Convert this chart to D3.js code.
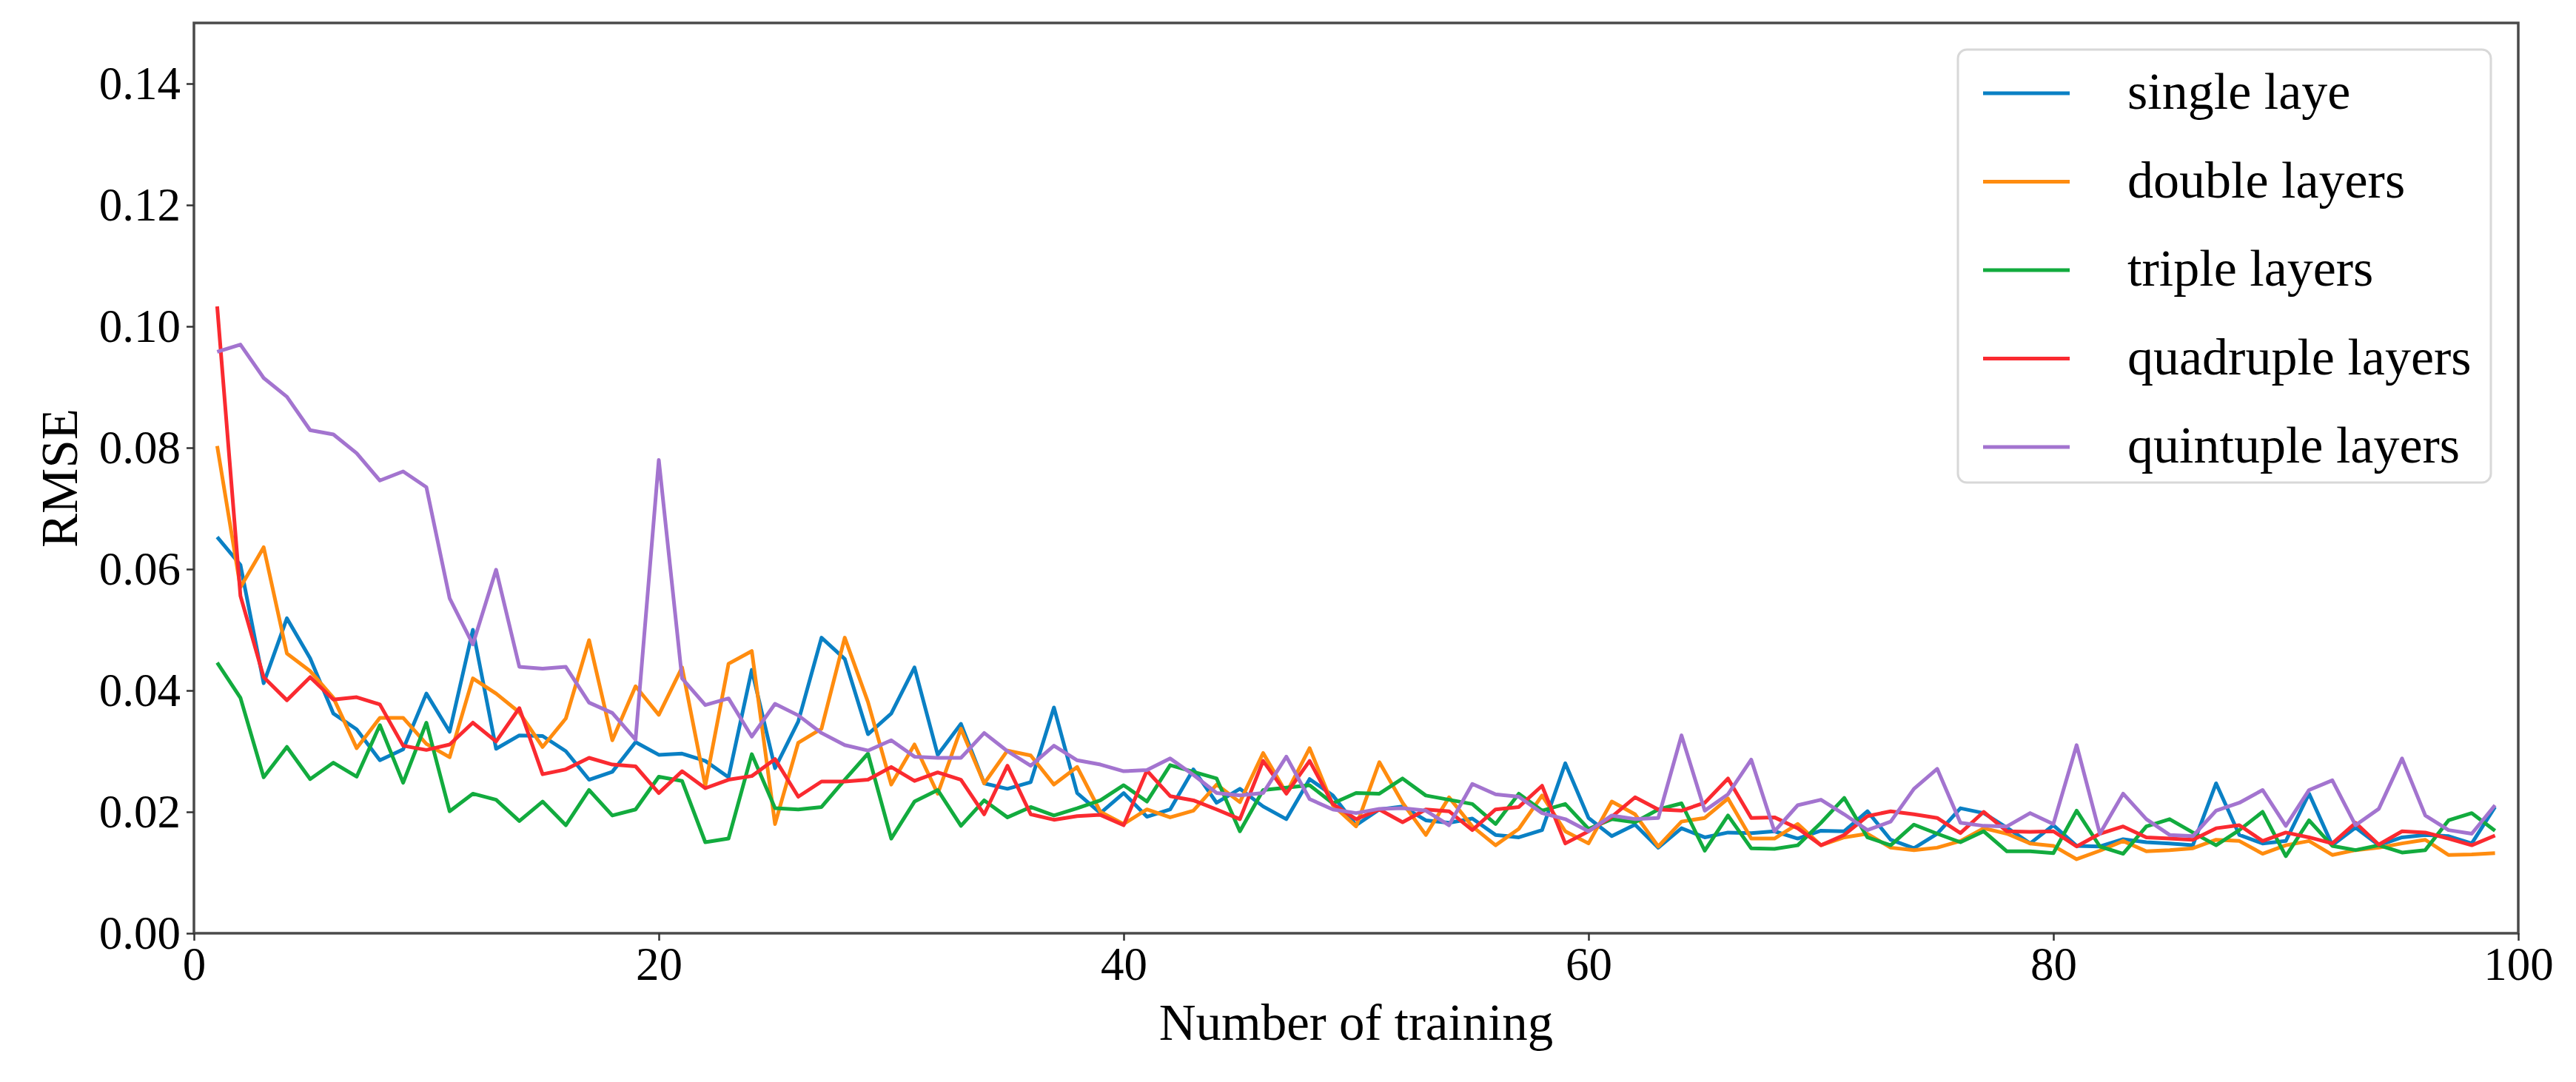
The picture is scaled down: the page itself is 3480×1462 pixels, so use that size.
<!DOCTYPE html>
<html>
<head>
<meta charset="utf-8">
<script src="https://cdn.jsdelivr.net/npm/d3@7"></script>
<style>
  html, body { margin: 0; padding: 0; background: #fff; }
  svg { display: block; }
</style>
</head>
<body>
<svg id="chart" width="3480" height="1462"></svg>
<script>
const seriesNames = ["single laye", "double layers", "triple layers", "quadruple layers", "quintuple layers"];
const seriesColors = ["#0a80c4", "#ff8c0f", "#12ab3e", "#fa2a30", "#a374cf"];
const xTicks = [0, 20, 40, 60, 80, 100];
const yTicks = [0.00, 0.02, 0.04, 0.06, 0.08, 0.10, 0.12, 0.14];

const single = [0.0653,0.0607,0.0412,0.0519,0.0453,0.0362,0.0336,0.0285,0.0303,0.0395,
0.0332,0.0500,0.0304,0.0326,0.0325,0.0300,0.0253,0.0266,0.0315,0.0294,
0.0296,0.0284,0.0257,0.0434,0.0272,0.0349,0.0487,0.0452,0.0328,0.0362,
0.0438,0.0294,0.0345,0.0247,0.0238,0.0249,0.0372,0.0231,0.0198,0.0231,
0.0192,0.0204,0.0270,0.0215,0.0238,0.0209,0.0188,0.0254,0.0227,0.0178,
0.0204,0.0209,0.0186,0.0182,0.0189,0.0162,0.0158,0.0170,0.0280,0.0190,
0.0160,0.0179,0.0141,0.0173,0.0158,0.0166,0.0165,0.0168,0.0156,0.0169,
0.0168,0.0201,0.0154,0.0140,0.0164,0.0206,0.0198,0.0174,0.0148,0.0178,
0.0144,0.0143,0.0155,0.0150,0.0148,0.0145,0.0247,0.0162,0.0148,0.0152,
0.0230,0.0145,0.0174,0.0145,0.0158,0.0162,0.0160,0.0148,0.0208];

const double = [0.0803,0.0570,0.0636,0.0461,0.0432,0.0388,0.0305,0.0355,0.0355,0.0312,
0.0290,0.0420,0.0395,0.0364,0.0307,0.0354,0.0483,0.0318,0.0407,0.0360,
0.0438,0.0243,0.0444,0.0465,0.0180,0.0314,0.0337,0.0487,0.0381,0.0245,
0.0311,0.0230,0.0337,0.0247,0.0301,0.0293,0.0245,0.0274,0.0200,0.0180,
0.0204,0.0191,0.0202,0.0245,0.0216,0.0297,0.0231,0.0305,0.0211,0.0176,
0.0282,0.0215,0.0162,0.0224,0.0176,0.0145,0.0172,0.0227,0.0168,0.0148,
0.0217,0.0196,0.0143,0.0184,0.0190,0.0222,0.0156,0.0156,0.0180,0.0145,
0.0158,0.0164,0.0141,0.0137,0.0141,0.0152,0.0173,0.0164,0.0148,0.0144,
0.0122,0.0136,0.0152,0.0135,0.0137,0.0140,0.0154,0.0152,0.0131,0.0145,
0.0152,0.0129,0.0137,0.0141,0.0148,0.0154,0.0129,0.0130,0.0132];

const triple = [0.0446,0.0388,0.0257,0.0307,0.0254,0.0281,0.0258,0.0343,0.0248,0.0347,
0.0201,0.0230,0.0220,0.0185,0.0217,0.0178,0.0236,0.0194,0.0204,0.0258,
0.0251,0.0150,0.0156,0.0295,0.0206,0.0204,0.0208,0.0253,0.0296,0.0156,
0.0217,0.0236,0.0177,0.0219,0.0191,0.0208,0.0194,0.0206,0.0219,0.0244,
0.0217,0.0277,0.0266,0.0255,0.0168,0.0236,0.0240,0.0244,0.0214,0.0231,
0.0230,0.0255,0.0227,0.0220,0.0213,0.0180,0.0230,0.0202,0.0213,0.0172,
0.0188,0.0183,0.0204,0.0214,0.0136,0.0194,0.0140,0.0139,0.0145,0.0182,
0.0223,0.0158,0.0145,0.0179,0.0164,0.0150,0.0168,0.0135,0.0135,0.0132,
0.0202,0.0143,0.0131,0.0176,0.0188,0.0166,0.0145,0.0170,0.0200,0.0127,
0.0186,0.0144,0.0137,0.0145,0.0133,0.0137,0.0186,0.0198,0.0169];

const quadruple = [0.1033,0.0556,0.0422,0.0384,0.0422,0.0385,0.0389,0.0377,0.0309,0.0302,
0.0311,0.0347,0.0316,0.0371,0.0262,0.0270,0.0289,0.0278,0.0275,0.0231,
0.0267,0.0239,0.0253,0.0259,0.0287,0.0225,0.0250,0.0250,0.0253,0.0274,
0.0251,0.0265,0.0253,0.0196,0.0276,0.0196,0.0187,0.0193,0.0195,0.0178,
0.0268,0.0226,0.0219,0.0204,0.0188,0.0284,0.0230,0.0284,0.0213,0.0188,
0.0204,0.0183,0.0204,0.0201,0.0170,0.0204,0.0208,0.0243,0.0148,0.0168,
0.0192,0.0224,0.0204,0.0202,0.0215,0.0255,0.0190,0.0191,0.0173,0.0145,
0.0162,0.0193,0.0201,0.0196,0.0190,0.0165,0.0200,0.0168,0.0167,0.0168,
0.0143,0.0164,0.0176,0.0158,0.0156,0.0154,0.0173,0.0178,0.0152,0.0166,
0.0158,0.0148,0.0182,0.0146,0.0168,0.0166,0.0156,0.0145,0.0161];

const quintuple = [0.0958,0.0970,0.0915,0.0884,0.0829,0.0822,0.0791,0.0746,0.0761,0.0735,
0.0552,0.0476,0.0599,0.0439,0.0436,0.0439,0.0380,0.0363,0.0319,0.0780,
0.0420,0.0376,0.0387,0.0324,0.0378,0.0359,0.0330,0.0310,0.0301,0.0318,
0.0291,0.0289,0.0289,0.0330,0.0300,0.0276,0.0309,0.0285,0.0278,0.0267,
0.0269,0.0288,0.0261,0.0231,0.0227,0.0231,0.0291,0.0221,0.0204,0.0198,
0.0205,0.0206,0.0202,0.0178,0.0246,0.0229,0.0225,0.0198,0.0188,0.0168,
0.0194,0.0188,0.0190,0.0326,0.0202,0.0229,0.0286,0.0168,0.0211,0.0220,
0.0196,0.0170,0.0184,0.0238,0.0271,0.0182,0.0177,0.0176,0.0198,0.0180,
0.0310,0.0164,0.0230,0.0188,0.0162,0.0160,0.0202,0.0215,0.0236,0.0177,
0.0236,0.0252,0.0178,0.0205,0.0288,0.0194,0.0170,0.0164,0.0211];

const allSeries = [single, double, triple, quadruple, quintuple];

const svg = d3.select("#chart");
const L = 262, R = 3402, T = 31, B = 1261;
const font = "'Liberation Serif', 'Times New Roman', serif";

const x = d3.scaleLinear().domain([0, 100]).range([L, R]);
const y = d3.scaleLinear().domain([0, 0.15]).range([B, T]);

const line = d3.line()
  .x((d, i) => x(i + 1))
  .y(d => y(d));

const plot = svg.append("g");
allSeries.forEach((s, k) => {
  plot.append("path")
    .datum(s)
    .attr("fill", "none")
    .attr("stroke", seriesColors[k])
    .attr("stroke-width", 5)
    .attr("stroke-linejoin", "round")
    .attr("d", line);
});

// frame
svg.append("rect")
  .attr("x", L).attr("y", T)
  .attr("width", R - L).attr("height", B - T)
  .attr("fill", "none").attr("stroke", "#4a4a4a").attr("stroke-width", 3.5);

const xAxis = svg.append("g")
  .attr("transform", `translate(0,${B})`)
  .call(d3.axisBottom(x).tickValues(xTicks).tickSize(10).tickPadding(8).tickFormat(d3.format("d")));
const yAxis = svg.append("g")
  .attr("transform", `translate(${L},0)`)
  .call(d3.axisLeft(y).tickValues(yTicks).tickSize(10).tickPadding(8).tickFormat(d3.format(".2f")));

[xAxis, yAxis].forEach(g => {
  g.select(".domain").remove();
  g.selectAll(".tick line").attr("stroke", "#333").attr("stroke-width", 2.5);
  g.selectAll(".tick text").attr("font-family", font).attr("font-size", 63).attr("fill", "#000");
});

svg.append("text")
  .attr("x", (L + R) / 2).attr("y", 1405)
  .attr("text-anchor", "middle")
  .attr("font-family", font).attr("font-size", 69).attr("fill", "#000")
  .text("Number of training");

svg.append("text")
  .attr("transform", `translate(104,${(T + B) / 2}) rotate(-90)`)
  .attr("text-anchor", "middle")
  .attr("font-family", font).attr("font-size", 69).attr("fill", "#000")
  .text("RMSE");

// legend
const lg = svg.append("g");
lg.append("rect")
  .attr("x", 2645).attr("y", 67).attr("width", 720).attr("height", 585)
  .attr("rx", 12).attr("ry", 12)
  .attr("fill", "#fff").attr("fill-opacity", 0.85)
  .attr("stroke", "#d8d8d8").attr("stroke-width", 3);
seriesNames.forEach((name, k) => {
  const yy = 126 + k * 119.5;
  lg.append("line")
    .attr("x1", 2679).attr("x2", 2796).attr("y1", yy).attr("y2", yy)
    .attr("stroke", seriesColors[k]).attr("stroke-width", 5);
  lg.append("text")
    .attr("x", 2874).attr("y", yy).attr("dy", "0.3em")
    .attr("font-family", font).attr("font-size", 70).attr("fill", "#000")
    .text(name);
});
</script>
</body>
</html>
